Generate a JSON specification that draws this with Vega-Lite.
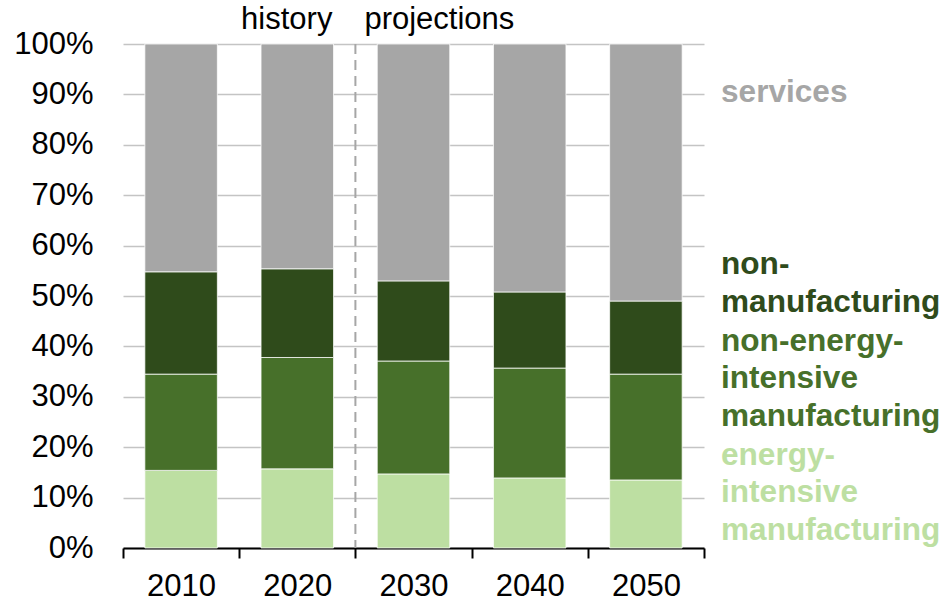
{
  "$schema": "https://vega.github.io/schema/vega-lite/v6.json",
  "width": 581,
  "height": 504,
  "autosize": "none",
  "padding": {"left": 123, "top": 44, "right": 243, "bottom": 54},
  "background": "white",
  "config": {"view": {"stroke": null}, "font": "Liberation Sans"},
  "datasets": {
    "shares": [
      {"year": "2010", "sector": "energy-intensive manufacturing", "rank": 1, "share": 15.4},
      {"year": "2010", "sector": "non-energy-intensive manufacturing", "rank": 2, "share": 19.1},
      {"year": "2010", "sector": "non-manufacturing", "rank": 3, "share": 20.3},
      {"year": "2010", "sector": "services", "rank": 4, "share": 45.2},
      {"year": "2020", "sector": "energy-intensive manufacturing", "rank": 1, "share": 15.7},
      {"year": "2020", "sector": "non-energy-intensive manufacturing", "rank": 2, "share": 22.1},
      {"year": "2020", "sector": "non-manufacturing", "rank": 3, "share": 17.6},
      {"year": "2020", "sector": "services", "rank": 4, "share": 44.6},
      {"year": "2030", "sector": "energy-intensive manufacturing", "rank": 1, "share": 14.7},
      {"year": "2030", "sector": "non-energy-intensive manufacturing", "rank": 2, "share": 22.4},
      {"year": "2030", "sector": "non-manufacturing", "rank": 3, "share": 15.9},
      {"year": "2030", "sector": "services", "rank": 4, "share": 47.0},
      {"year": "2040", "sector": "energy-intensive manufacturing", "rank": 1, "share": 13.9},
      {"year": "2040", "sector": "non-energy-intensive manufacturing", "rank": 2, "share": 21.8},
      {"year": "2040", "sector": "non-manufacturing", "rank": 3, "share": 15.1},
      {"year": "2040", "sector": "services", "rank": 4, "share": 49.2},
      {"year": "2050", "sector": "energy-intensive manufacturing", "rank": 1, "share": 13.5},
      {"year": "2050", "sector": "non-energy-intensive manufacturing", "rank": 2, "share": 21.0},
      {"year": "2050", "sector": "non-manufacturing", "rank": 3, "share": 14.5},
      {"year": "2050", "sector": "services", "rank": 4, "share": 51.0}
    ],
    "labels": [
      {"sector": "services", "label": "services", "at": 88.55},
      {"sector": "non-manufacturing", "label": "non-\nmanufacturing", "at": 54.3},
      {"sector": "non-energy-intensive manufacturing", "label": "non-energy-\nintensive\nmanufacturing", "at": 39.1},
      {"sector": "energy-intensive manufacturing", "label": "energy-\nintensive\nmanufacturing", "at": 16.5}
    ],
    "periods": [
      {"period": "history"},
      {"period": "projections"}
    ]
  },
  "layer": [
    {
      "data": {"name": "shares"},
      "mark": {"type": "bar", "stroke": "white", "strokeWidth": 0.75, "width": {"band": 0.624}},
      "encoding": {
        "x": {
          "field": "year", "type": "nominal",
          "scale": {"domain": ["2010", "2020", "2030", "2040", "2050"], "paddingInner": 0, "paddingOuter": 0},
          "axis": {
            "title": null, "labelAngle": 0, "grid": false,
            "domainColor": "black", "domainWidth": 2,
            "tickColor": "black", "tickWidth": 2, "tickSize": 10, "tickBand": "extent",
            "labelFontSize": 31, "labelColor": "black", "labelPadding": 13,
            "labelFont": "Liberation Sans"
          }
        },
        "y": {
          "field": "share", "type": "quantitative", "stack": "zero",
          "scale": {"domain": [0, 100], "nice": false},
          "axis": {
            "title": null, "values": [0, 10, 20, 30, 40, 50, 60, 70, 80, 90, 100],
            "labelExpr": "datum.value + '%'",
            "grid": true, "gridColor": "#c4c4c4", "gridWidth": 1.5,
            "domain": false, "ticks": false, "labelPadding": 30,
            "labelFontSize": 31, "labelColor": "black", "labelFont": "Liberation Sans"
          }
        },
        "color": {
          "field": "sector", "type": "nominal",
          "scale": {
            "domain": ["services", "non-manufacturing", "non-energy-intensive manufacturing", "energy-intensive manufacturing"],
            "range": ["#a6a6a6", "#2f4b1b", "#47702a", "#bddfa2"]
          },
          "legend": null
        },
        "order": {"field": "rank", "type": "quantitative"}
      }
    },
    {
      "data": {"name": "periods"},
      "transform": [{"filter": "datum.period === 'projections'"}],
      "mark": {"type": "rule", "stroke": "#a6a6a6", "strokeWidth": 2, "strokeDash": [10, 6]},
      "encoding": {
        "x": {"datum": "2030", "type": "nominal", "bandPosition": 0},
        "y": {"datum": 100, "type": "quantitative"},
        "y2": {"datum": 0}
      }
    },
    {
      "data": {"name": "periods"},
      "transform": [{"filter": "datum.period === 'history'"}],
      "mark": {"type": "text", "align": "right", "baseline": "alphabetic", "dx": -23, "dy": -15.5, "fontSize": 31, "fill": "black"},
      "encoding": {
        "x": {"datum": "2030", "type": "nominal", "bandPosition": 0},
        "y": {"datum": 100, "type": "quantitative"},
        "text": {"field": "period", "type": "nominal"}
      }
    },
    {
      "data": {"name": "periods"},
      "transform": [{"filter": "datum.period === 'projections'"}],
      "mark": {"type": "text", "align": "left", "baseline": "alphabetic", "dx": 9, "dy": -15.5, "fontSize": 31, "fill": "black"},
      "encoding": {
        "x": {"datum": "2030", "type": "nominal", "bandPosition": 0},
        "y": {"datum": 100, "type": "quantitative"},
        "text": {"field": "period", "type": "nominal"}
      }
    },
    {
      "data": {"name": "labels"},
      "mark": {"type": "text", "align": "left", "baseline": "alphabetic", "fontSize": 31.6, "fontWeight": "bold", "lineHeight": 37.5, "lineBreak": "\n", "dx": 17},
      "encoding": {
        "x": {"datum": "2050", "type": "nominal", "bandPosition": 1},
        "y": {"field": "at", "type": "quantitative"},
        "text": {"field": "label", "type": "nominal"},
        "color": {"field": "sector", "type": "nominal"}
      }
    }
  ]
}
